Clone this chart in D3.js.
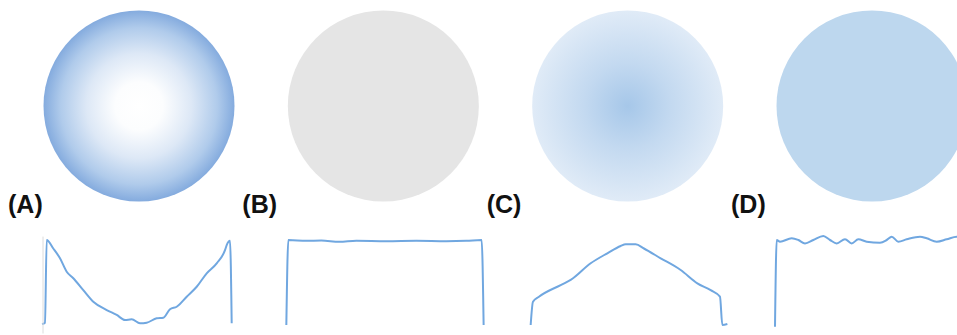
<!DOCTYPE html>
<html>
<head>
<meta charset="utf-8">
<script src="https://cdn.jsdelivr.net/npm/d3@7"></script>
<style>
  body { margin: 0; background: #fff; }
  svg { display: block; }
</style>
</head>
<body>
<script>
// panels, left to right
const panels = ["A", "B", "C", "D"];

// profile positions (distance across the circle) and intensities (0 = background, 100 = plateau)
const profileA_x = [0, 3, 4.7, 11.3, 18, 24.7, 31.3, 41.3, 51.3, 64.7, 74.7, 83, 89.7, 98, 104.7, 114.7, 121.3, 128, 134.7, 144.7, 154.7, 164.7, 174.7, 183, 184.7, 188, 189.7];
const profileA_y = [1, 2.7, 100, 90, 78.5, 62.7, 55, 41, 27.4, 17.6, 11.8, 5.9, 6.7, 2, 2.7, 7.9, 8.6, 18.5, 21.5, 33.3, 45, 60.8, 72.6, 88, 94, 99, 2];

const profileB_x = [0, 2, 20, 35, 53, 70, 100, 130, 160, 180, 195.3, 197.3];
const profileB_y = [0, 100, 99, 99.5, 97.8, 99, 98.6, 99, 98.6, 99, 100, 0];

const profileC_x = [0, 2.3, 8.3, 30, 40, 60, 76.7, 90, 95, 105, 113.3, 130, 150, 166.7, 180, 189.3, 191.7, 196.7];
const profileC_y = [0, 27.4, 33.3, 47, 53, 72.6, 84.4, 93, 95, 95, 90, 78.5, 64.7, 49, 41, 33.3, 0, 1.2];

const profileD_x = [0, 1.7, 5, 16.7, 23.3, 30, 38.3, 48.3, 55, 61.7, 70, 76.7, 83.3, 91.7, 105, 111.7, 116.7, 123.3, 131.7, 145, 151.7, 161.7, 171.7, 181.7, 191];
const profileD_y = [-2, 100, 98, 102, 100, 96, 100, 104.7, 100, 96, 101, 96, 100.8, 98, 96.8, 100, 103.9, 98, 100.8, 103.9, 102, 98, 100.8, 103.9, 102];

const profiles = [
  profileA_x.map((x, i) => [x, profileA_y[i]]),
  profileB_x.map((x, i) => [x, profileB_y[i]]),
  profileC_x.map((x, i) => [x, profileC_y[i]]),
  profileD_x.map((x, i) => [x, profileD_y[i]])
];

const width = 957, height = 335;
const radius = 95.5;

const svg = d3.select("body").append("svg")
  .attr("width", width)
  .attr("height", height);

// fills of the four discs
const defs = svg.append("defs");

const gradA = defs.append("radialGradient").attr("id", "gradA");
[[0, "#ffffff"], [0.25, "#fcfdfe"], [0.55, "#dde8f6"], [0.82, "#b0cbeb"], [1, "#84abde"]]
  .forEach(s => gradA.append("stop").attr("offset", s[0]).attr("stop-color", s[1]));

const gradC = defs.append("radialGradient").attr("id", "gradC");
[[0, "#a6c7e9"], [0.45, "#c3d9f0"], [1, "#e0ebf7"]]
  .forEach(s => gradC.append("stop").attr("offset", s[0]).attr("stop-color", s[1]));

const fills = ["url(#gradA)", "#e5e5e5", "url(#gradC)", "#bdd7ee"];

// centre of each panel
const panelX = d3.scalePoint()
  .domain(panels)
  .range([139, 872]);

// scales of the line profiles
const xscale = d3.scaleLinear()
  .domain([0, 200])
  .range([0, 200]);

const yscale = d3.scaleLinear()
  .domain([0, 100])
  .range([325, 240]);

const line = d3.line()
  .x(d => xscale(d[0]))
  .y(d => yscale(d[1]))
  .curve(d3.curveMonotoneX);

const g = svg.selectAll(".panel")
  .data(panels)
  .enter()
  .append("g")
  .attr("class", "panel");

// discs
g.append("circle")
  .attr("cx", d => panelX(d))
  .attr("cy", 106)
  .attr("r", radius)
  .attr("fill", (d, i) => fills[i]);

// panel labels
g.append("text")
  .attr("x", d => Math.max(8, panelX(d) - 141))
  .attr("y", 213)
  .attr("font-family", "Liberation Sans, Arial, sans-serif")
  .attr("font-weight", "bold")
  .attr("font-size", 25)
  .attr("fill", "#111")
  .text(d => "(" + d + ")");

// light vertical axis in the first panel only
svg.append("line")
  .attr("x1", panelX("A") - 96)
  .attr("x2", panelX("A") - 96)
  .attr("y1", yscale(-10))
  .attr("y2", yscale(104))
  .attr("stroke", "#dcdcdc")
  .attr("stroke-width", 1);

// intensity profiles
g.append("path")
  .attr("transform", d => "translate(" + (panelX(d) - 97) + ",0)")
  .attr("d", (d, i) => line(profiles[i]))
  .attr("fill", "none")
  .attr("stroke", "#70a7e0")
  .attr("stroke-width", 2)
  .attr("stroke-linejoin", "round");
</script>
</body>
</html>
